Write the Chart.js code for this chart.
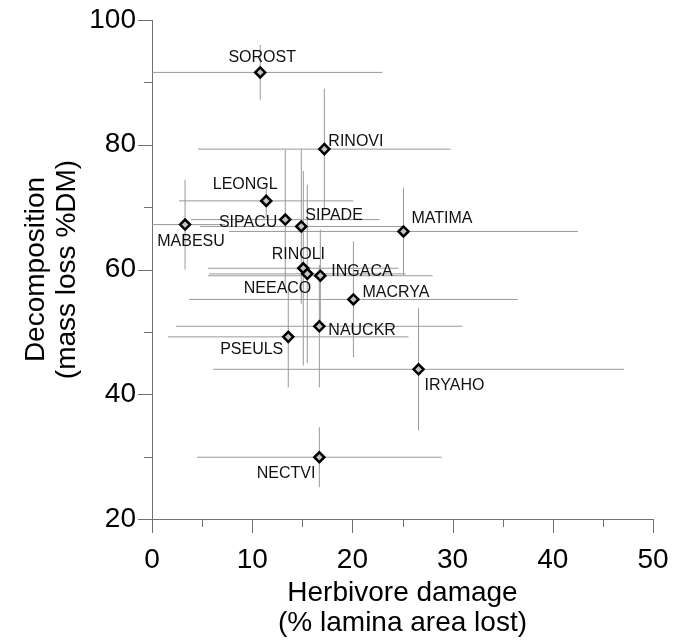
<!DOCTYPE html>
<html>
<head>
<meta charset="utf-8">
<script src="https://cdn.jsdelivr.net/npm/chart.js@4.4.1/dist/chart.umd.min.js"></script>
<style>
  body { margin: 0; background: #fff; }
</style>
</head>
<body>
<canvas id="chart" width="683" height="642"></canvas>
<script>
// species codes and their means
const species = ['SOROST', 'RINOVI', 'LEONGL', 'MABESU', 'SIPACU', 'SIPADE', 'MATIMA', 'RINOLI',
                 'NEEACO', 'INGACA', 'MACRYA', 'NAUCKR', 'PSEULS', 'IRYAHO', 'NECTVI'];
const damage = [10.8, 17.2, 11.4, 3.3, 13.3, 14.9, 25.1, 15.1, 15.5, 16.8, 20.1, 16.7, 13.6, 26.6, 16.7];
const decomp = [91.6, 79.3, 71.0, 67.2, 68.0, 66.9, 66.1, 60.2, 59.3, 59.0, 55.2, 50.9, 49.2, 44.0, 29.9];
// error bar half widths
const damageErr = [12.2, 12.6, 8.7, 4.0, 9.4, 10.1, 17.4, 9.5, 9.8, 11.2, 16.4, 14.3, 12.0, 20.5, 12.2];
const decompErr = [4.4, 9.7, 2.7, 7.2, 11.2, 12.4, 7.0, 15.6, 14.3, 7.4, 9.3, 9.8, 8.1, 9.8, 4.8];

const xTicks = [0, 10, 20, 30, 40, 50];
const yTicks = [20, 40, 60, 80, 100];

// where each label sits next to its point (px offset, text align)
const labelPos = [
    [2, -15, 'center'], [4, -8, 'left'], [-21, -16, 'center'], [6, 17, 'center'],
    [-8, 3, 'right'], [4, -11, 'left'], [8, -13, 'left'], [-5, -14, 'center'],
    [4, 15, 'right'], [11, -4, 'left'], [9, -7, 'left'], [9, 4, 'left'],
    [-5, 13, 'right'], [6, 16, 'left'], [-4, 16, 'right']
];

const FONT = "'Liberation Sans', Arial, sans-serif";
const AXIS_COLOR = '#707070';
const BAR_COLOR = '#999999';

const errorBars = {
    id: 'errorBars',
    beforeDatasetsDraw(chart) {
        const ctx = chart.ctx;
        const xs = chart.scales.x, ys = chart.scales.y;
        const a = chart.chartArea;
        ctx.save();
        ctx.beginPath();
        ctx.rect(a.left, a.top, a.right - a.left, a.bottom - a.top);
        ctx.clip();
        ctx.strokeStyle = BAR_COLOR;
        ctx.lineWidth = 1;
        for (let i = 0; i < species.length; i++) {
            const px = xs.getPixelForValue(damage[i]);
            const py = ys.getPixelForValue(decomp[i]);
            ctx.beginPath();
            ctx.moveTo(xs.getPixelForValue(damage[i] - damageErr[i]), py);
            ctx.lineTo(xs.getPixelForValue(damage[i] + damageErr[i]), py);
            ctx.moveTo(px, ys.getPixelForValue(decomp[i] - decompErr[i]));
            ctx.lineTo(px, ys.getPixelForValue(decomp[i] + decompErr[i]));
            ctx.stroke();
        }
        ctx.restore();
    }
};

const pointLabels = {
    id: 'pointLabels',
    afterDatasetsDraw(chart) {
        const ctx = chart.ctx;
        const meta = chart.getDatasetMeta(0);
        ctx.save();
        ctx.font = '16px ' + FONT;
        ctx.fillStyle = '#111';
        ctx.textBaseline = 'middle';
        meta.data.forEach((pt, i) => {
            const p = labelPos[i];
            ctx.textAlign = p[2];
            ctx.fillText(species[i], pt.x + p[0], pt.y + p[1]);
        });
        ctx.restore();
    }
};

// major ticks long, minor ticks short
const tickMarks = {
    id: 'tickMarks',
    afterDraw(chart) {
        const ctx = chart.ctx;
        const xs = chart.scales.x, ys = chart.scales.y;
        ctx.save();
        ctx.strokeStyle = AXIS_COLOR;
        ctx.lineWidth = 1;
        ctx.beginPath();
        for (let v = 0; v <= 50; v += 5) {
            const x = Math.round(xs.getPixelForValue(v)) + 0.5;
            const len = v % 10 === 0 ? 14 : 8;
            ctx.moveTo(x, xs.top);
            ctx.lineTo(x, xs.top + len);
        }
        for (let v = 20; v <= 100; v += 10) {
            const y = Math.round(ys.getPixelForValue(v)) + 0.5;
            const len = v % 20 === 0 ? 14 : 8;
            ctx.moveTo(ys.right, y);
            ctx.lineTo(ys.right - len, y);
        }
        ctx.stroke();
        ctx.restore();
    }
};

new Chart(document.getElementById('chart'), {
    type: 'scatter',
    data: {
        datasets: [{
            data: species.map((s, i) => ({ x: damage[i], y: decomp[i] })),
            pointStyle: 'rectRot',
            pointRadius: 5,
            borderWidth: 2.5,
            borderColor: '#000',
            backgroundColor: '#c4c4c4'
        }]
    },
    options: {
        responsive: false,
        animation: false,
        layout: { padding: { top: 20, right: 30, left: 0, bottom: 0 } },
        plugins: {
            legend: { display: false },
            tooltip: { enabled: false }
        },
        scales: {
            x: {
                type: 'linear',
                min: 0,
                max: 50,
                afterBuildTicks: (s) => { s.ticks = xTicks.map(v => ({ value: v })); },
                afterFit: (s) => { s.height = 123; },
                grid: { drawOnChartArea: false, tickLength: 14, tickColor: 'transparent' },
                border: { color: AXIS_COLOR, width: 1 },
                ticks: { color: '#000', font: { family: FONT, size: 28 }, padding: 10, maxRotation: 0 },
                title: {
                    display: true,
                    text: ['Herbivore damage', '(% lamina area lost)'],
                    color: '#000',
                    font: { family: FONT, size: 28, lineHeight: 1.1 },
                    padding: { top: 0, bottom: 3 }
                }
            },
            y: {
                type: 'linear',
                min: 20,
                max: 100,
                afterBuildTicks: (s) => { s.ticks = yTicks.map(v => ({ value: v })); },
                afterFit: (s) => { s.width = 152; },
                grid: { drawOnChartArea: false, tickLength: 14, tickColor: 'transparent' },
                border: { color: AXIS_COLOR, width: 1 },
                ticks: { color: '#000', font: { family: FONT, size: 28 }, padding: 2 },
                title: {
                    display: true,
                    text: ['Decomposition', '(mass loss %DM)'],
                    color: '#000',
                    font: { family: FONT, size: 28, lineHeight: 1.1 },
                    padding: { top: 21, bottom: 0 }
                }
            }
        }
    },
    plugins: [errorBars, pointLabels, tickMarks]
});
</script>
</body>
</html>
